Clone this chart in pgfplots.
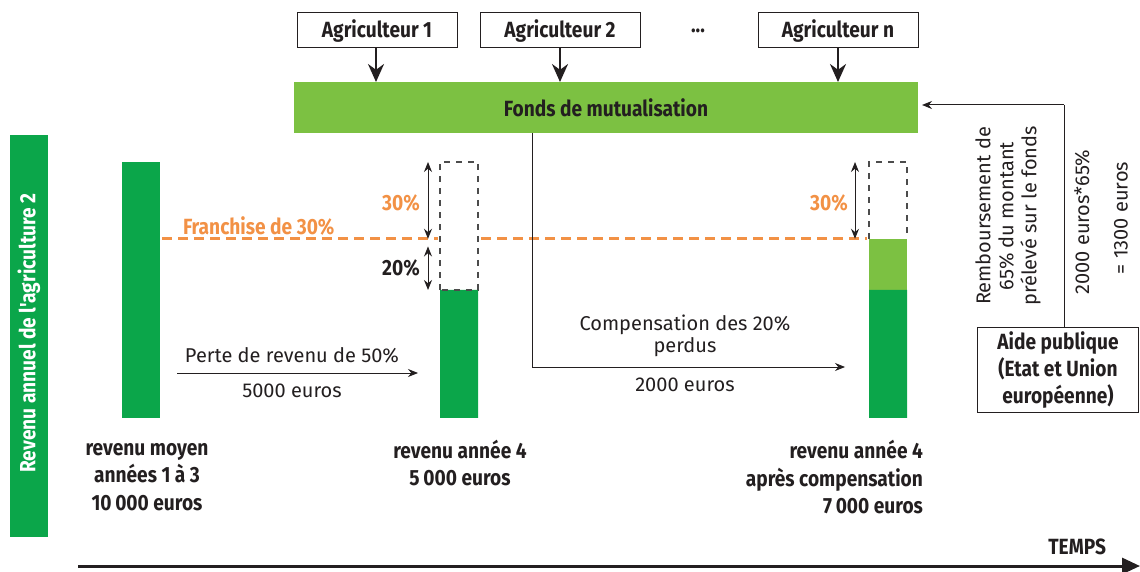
\documentclass[border=0pt]{standalone}
\usepackage{pgfplots}
\pgfplotsset{compat=1.18}
\usepackage{fontspec}
\setmainfont{Fira Sans}
\newfontfamily\cond[FakeStretch=0.87]{Fira Sans}
\usetikzlibrary{arrows.meta}
\definecolor{dkgreen}{HTML}{0BA64A}
\definecolor{ltgreen}{HTML}{7CC142}
\definecolor{franch}{HTML}{F29145}
\definecolor{ink}{HTML}{231F20}

% revenus (euros) placed at pixel-like x positions
\pgfplotstableread{
x    y
141  10000
}\moyen
\pgfplotstableread{
x    y
459  5000
888  5000
}\annee

\begin{document}
\begin{tikzpicture}[
  lab/.style={font=\cond\bfseries\fontsize{11}{13}\selectfont, text=ink},
  txt/.style={font=\fontsize{10}{12}\selectfont, text=ink},
  thin/.style={draw=ink, line width=0.5pt, -{Stealth[length=5pt,width=4pt]}},
  both/.style={draw=ink, line width=0.5pt, {Stealth[length=5pt,width=4pt]}-{Stealth[length=5pt,width=4pt]}},
]
% --- bars, in euros
\begin{axis}[
  at={(0,0)}, anchor=south west,
  scale only axis, width=570pt, height=286pt,
  xmin=0, xmax=1140, ymin=-6016, ymax=16328,
  hide axis, clip=false,
  ybar, bar width=38, bar shift=0,
]
\addplot[fill=dkgreen, draw=none] table[x=x, y=y] {\moyen};
\addplot[fill=ltgreen, draw=none] coordinates {(888,7000)};
\addplot[fill=dkgreen, draw=none] table[x=x, y=y] {\annee};
% dashed empty parts
\addplot[sharp plot, draw=black!70, dashed, line width=0.6pt] coordinates {(440,5000)(440,10000)(478,10000)(478,5000)(440,5000)};
\addplot[sharp plot, draw=black!70, dashed, line width=0.6pt] coordinates {(869,7000)(869,10000)(907,10000)(907,7000)};
% franchise 30%
\addplot[sharp plot, draw=franch, line width=1.3pt, dash pattern=on 5pt off 3pt] coordinates {(162,7000)(438,7000)};
\addplot[sharp plot, draw=franch, line width=1.3pt, dash pattern=on 5pt off 3pt] coordinates {(481,7000)(867,7000)};
% arrows 30% / 20%
\addplot[sharp plot, both] coordinates {(428,10000)(428,7000)};
\addplot[sharp plot, both] coordinates {(428,6700)(428,5000)};
\addplot[sharp plot, both] coordinates {(855,10000)(855,7000)};
\end{axis}
% --- annotations, in pixels
\begin{axis}[
  at={(0,0)}, anchor=south west,
  scale only axis, width=570pt, height=286pt,
  xmin=0, xmax=1140, ymin=0, ymax=572, y dir=reverse,
  hide axis, clip=false,
]
% left vertical title
\fill[dkgreen] (10,135) rectangle (48,537);
\node[lab, text=white, rotate=90] at (29,333) {Revenu annuel de l'agriculture 2};
% farmers
\draw[ink, line width=0.5pt] (297,13) rectangle (457,48);
\draw[ink, line width=0.5pt] (480,13) rectangle (640,48);
\draw[ink, line width=0.5pt] (758,13) rectangle (918,48);
\node[lab] at (377,31) {Agriculteur 1};
\node[lab] at (560,31) {Agriculteur 2};
\node[lab] at (698,31) {...};
\node[lab] at (838,31) {Agriculteur n};
\draw[ink, line width=1.2pt, -{Stealth[length=9pt,width=8pt]}] (376,48) -- (376,82);
\draw[ink, line width=1.2pt, -{Stealth[length=9pt,width=8pt]}] (560,48) -- (560,82);
\draw[ink, line width=1.2pt, -{Stealth[length=9pt,width=8pt]}] (838,48) -- (838,82);
% fund
\fill[ltgreen] (294,82) rectangle (918,133);
\node[lab] at (606,108) {Fonds de mutualisation};
% public aid
\draw[thin] (1064,105) -- (922,105);
\draw[ink, line width=0.5pt] (1064,105) -- (1064,327);
\draw[ink, line width=0.5pt] (977,327) rectangle (1138,412);
\node[lab, align=center, font=\cond\bfseries\fontsize{11}{13.5}\selectfont] at (1058,370) {Aide publique\\(Etat et Union\\européenne)};
\node[txt, rotate=90, align=center, font=\fontsize{10}{11.5}\selectfont] at (1008,216) {Remboursement de\\65\% du montant\\prélevé sur le fonds};
\node[txt, rotate=90] at (1082,222) {2000 euros*65\%};
\node[txt, rotate=90] at (1121,218) {= 1300 euros};
% percentages
\node[lab, text=franch] at (176,226) [anchor=west] {Franchise de 30\%};
\node[lab, text=franch] at (401,203) {30\%};
\node[lab] at (401,268) {20\%};
\node[lab, text=franch] at (829,203) {30\%};
% loss
\node[txt] at (292,355) {Perte de revenu de 50\%};
\draw[thin] (177,373) -- (418,373);
\node[txt] at (292,391) {5000 euros};
% compensation
\draw[thin] (532,133) -- (532,367) -- (845,367);
\node[txt, align=center, font=\fontsize{10}{11}\selectfont] at (685,336) {Compensation des 20\%\\perdus};
\node[txt] at (685,385) {2000 euros};
% bottom labels
\node[lab, align=center, font=\cond\bfseries\fontsize{11}{13.75}\selectfont] at (147,477) {revenu moyen\\années 1 à 3\\10\,000 euros};
\node[lab, align=center, font=\cond\bfseries\fontsize{11}{13.75}\selectfont] at (460,463) {revenu année 4\\5\,000 euros};
\node[lab, align=right, font=\cond\bfseries\fontsize{11}{13.75}\selectfont, anchor=east] at (930,477) {revenu année 4\\après compensation\\7\,000 euros};
% time axis
\node[lab, anchor=east] at (1113,547) {TEMPS};
\draw[ink, line width=1.5pt, -{Triangle[length=9pt,width=8pt]}] (78,566) -- (1140,566);
\end{axis}
\pgfresetboundingbox
\path (0,0) rectangle (570pt,286pt);
\end{tikzpicture}
\end{document}
